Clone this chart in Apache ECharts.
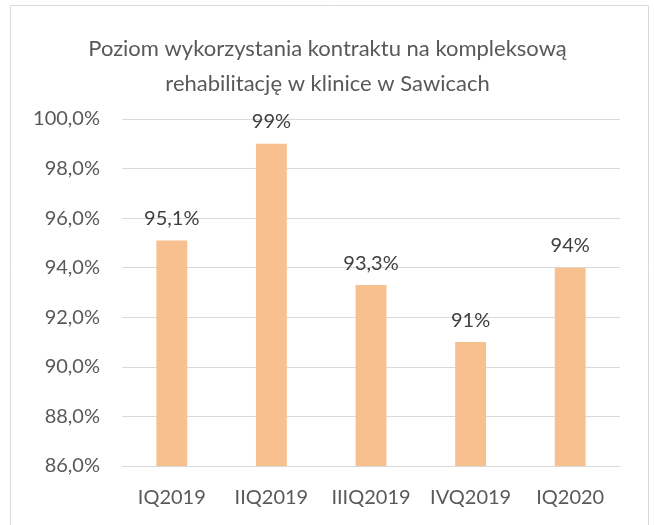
<!DOCTYPE html>
<html><head><meta charset="utf-8">
<script src="https://cdn.jsdelivr.net/npm/echarts@6/dist/echarts.min.js"></script>
<style>html,body{margin:0;padding:0;background:#fff}#c{width:655px;height:525px}</style>
</head><body><div id="c"></div>
<script>
const categories = ['IQ2019','IIQ2019','IIIQ2019','IVQ2019','IQ2020'];
const values = [95.1, 99, 93.3, 91, 94];
const labels = ['95,1%','99%','93,3%','91%','94%'];
const titleText = 'Poziom wykorzystania kontraktu na kompleksową\nrehabilitację w klinice w Sawicach';
const FONT = 'Lato';
const chart = echarts.init(document.getElementById('c'), null, {renderer:'canvas'});
chart.setOption({
  animation:false,
  backgroundColor:'#fff',
  graphic:[{type:'rect',shape:{x:10.5,y:5.5,width:638,height:530},style:{fill:'none',stroke:'#d9d9d9',lineWidth:1}}],
  title:{text:titleText,left:'center',top:26,textStyle:{fontFamily:FONT,fontSize:22,fontWeight:'normal',color:'#595959',lineHeight:35}},
  grid:{left:122,right:35,top:119,bottom:59},
  xAxis:{type:'category',data:categories,axisTick:{show:false},axisLine:{lineStyle:{color:'#d9d9d9',width:1}},
    axisLabel:{fontFamily:FONT,fontSize:20,color:'#595959',margin:22,interval:0,hideOverlap:false}},
  yAxis:{type:'value',min:86,max:100,interval:2,axisLine:{show:false},axisTick:{show:false},
    splitLine:{lineStyle:{color:'#d9d9d9',width:1}},
    axisLabel:{fontFamily:FONT,fontSize:20,color:'#595959',margin:22,formatter:v=>v.toFixed(1).replace('.',',')+'%'}},
  series:[{type:'bar',data:values,barWidth:'31%',itemStyle:{color:'#F9C08F'},
    label:{show:true,position:'top',distance:12,fontFamily:FONT,fontSize:20,color:'#404040',formatter:p=>labels[p.dataIndex]}}]
});
</script></body></html>
